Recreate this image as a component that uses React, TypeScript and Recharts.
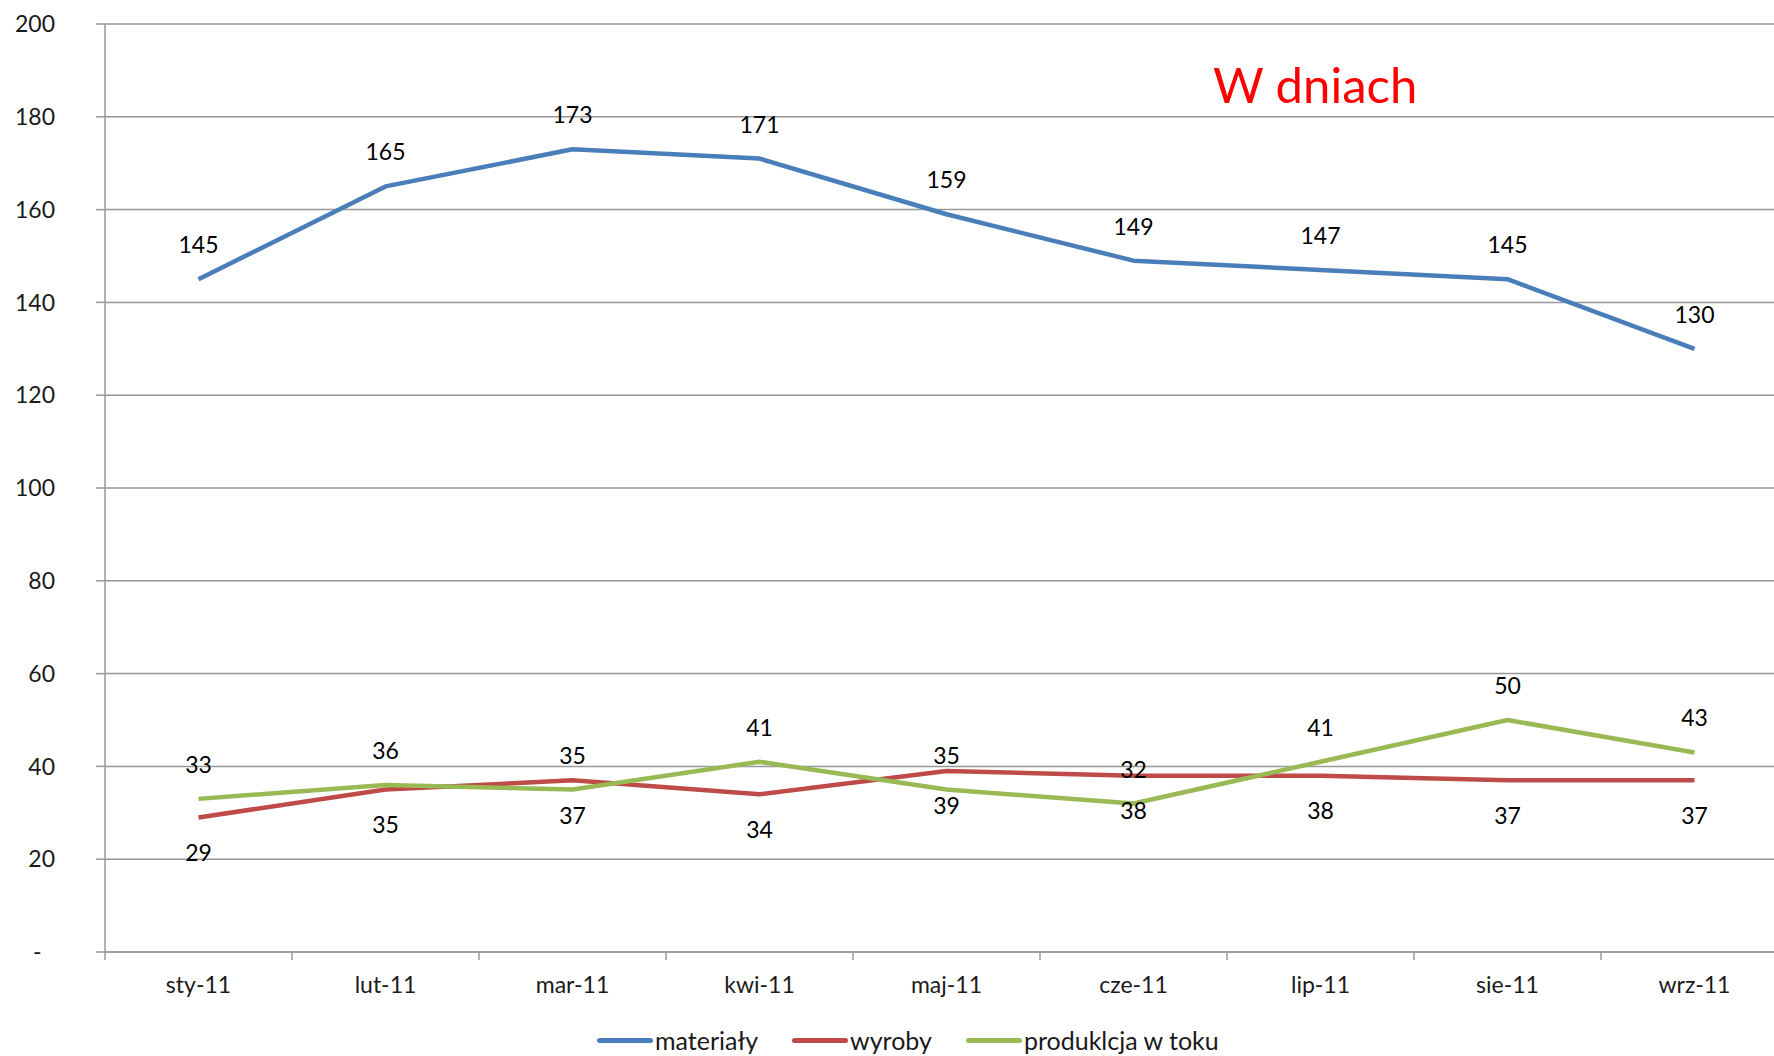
import React from "react"
import { LineChart, Line, XAxis, YAxis, CartesianGrid, LabelList } from "recharts"

const months = ["sty-11", "lut-11", "mar-11", "kwi-11", "maj-11", "cze-11", "lip-11", "sie-11", "wrz-11"]
const materialy = [145, 165, 173, 171, 159, 149, 147, 145, 130]
const wyroby = [29, 35, 37, 34, 39, 38, 38, 37, 37]
const produkcja = [33, 36, 35, 41, 35, 32, 41, 50, 43]
const yTicks = [0, 20, 40, 60, 80, 100, 120, 140, 160, 180, 200]

const series = [
  { key: "materialy", name: "materiały", color: "#4a7ebb", labelPos: "top" as const, labelOffset: 26 },
  { key: "wyroby", name: "wyroby", color: "#be4b48", labelPos: "bottom" as const, labelOffset: 27 },
  { key: "produkcja", name: "produklcja w toku", color: "#98b954", labelPos: "top" as const, labelOffset: 26 },
]

const data = months.map((month, i) => ({
  month,
  materialy: materialy[i],
  wyroby: wyroby[i],
  produkcja: produkcja[i],
}))

const GRID = "#989898"
const FS = 23

// month label plus a small tick mark on the left edge of each category band
function MonthTick(props: any) {
  const { x, y, payload } = props
  const half = payload?.offset ?? 0
  return (
    <g>
      <line x1={x - half} x2={x - half} y1={y} y2={y + 8} stroke={GRID} strokeWidth={1.5} />
      <text x={x} y={y + 41} textAnchor="middle" fill="#1a1a1a" fontSize={FS}>
        {payload.value}
      </text>
    </g>
  )
}

export default function App() {
  return (
    <div
      style={{
        position: "absolute",
        left: 0,
        top: 0,
        width: 1774,
        height: 1056,
        overflow: "hidden",
        background: "#fff",
        fontFamily: "Lato, sans-serif",
      }}
    >
      <LineChart width={1800} height={1056} data={data} margin={{ top: 24, right: 12, bottom: 0, left: 0 }}>
        <CartesianGrid vertical={false} stroke={GRID} strokeWidth={1.5} />
        <XAxis
          dataKey="month"
          scale="band"
          height={104}
          tickLine={false}
          tickSize={0}
          tickMargin={0}
          axisLine={{ stroke: GRID, strokeWidth: 1.5 }}
          tick={<MonthTick />}
          interval={0}
        />
        <YAxis
          width={105}
          domain={[0, 200]}
          ticks={yTicks}
          tickFormatter={(v: number) => (v === 0 ? "-\u2007" : String(v))}
          tickSize={9}
          tickMargin={41}
          axisLine={{ stroke: GRID, strokeWidth: 1.5 }}
          tickLine={{ stroke: GRID, strokeWidth: 1.5 }}
          tick={{ fill: "#1a1a1a", fontSize: FS }}
        />
        {series.map((s) => (
          <Line
            key={s.key}
            dataKey={s.key}
            name={s.name}
            stroke={s.color}
            strokeWidth={4.5}
            strokeLinejoin="round"
            dot={false}
            activeDot={false}
            isAnimationActive={false}
          >
            <LabelList
              dataKey={s.key}
              position={s.labelPos}
              offset={s.labelOffset}
              fill="#000"
              fontSize={FS}
            />
          </Line>
        ))}
      </LineChart>

      <svg width={1774} height={1056} style={{ position: "absolute", left: 0, top: 0, pointerEvents: "none" }}>
        <text x={1213} y={103} fill="#ff0000" fontSize={49} fontFamily="Lato, sans-serif">
          W dniach
        </text>
      </svg>

      <div
        style={{
          position: "absolute",
          left: 597,
          top: 1025,
          height: 30,
          display: "flex",
          alignItems: "center",
          fontSize: 25,
          color: "#1a1a1a",
        }}
      >
        {series.map((s) => (
          <div key={s.key} style={{ display: "flex", alignItems: "center", marginRight: 34 }}>
            <div style={{ width: 56, height: 5, borderRadius: 2.5, background: s.color, marginRight: 2 }} />
            <span>{s.name}</span>
          </div>
        ))}
      </div>
    </div>
  )
}
